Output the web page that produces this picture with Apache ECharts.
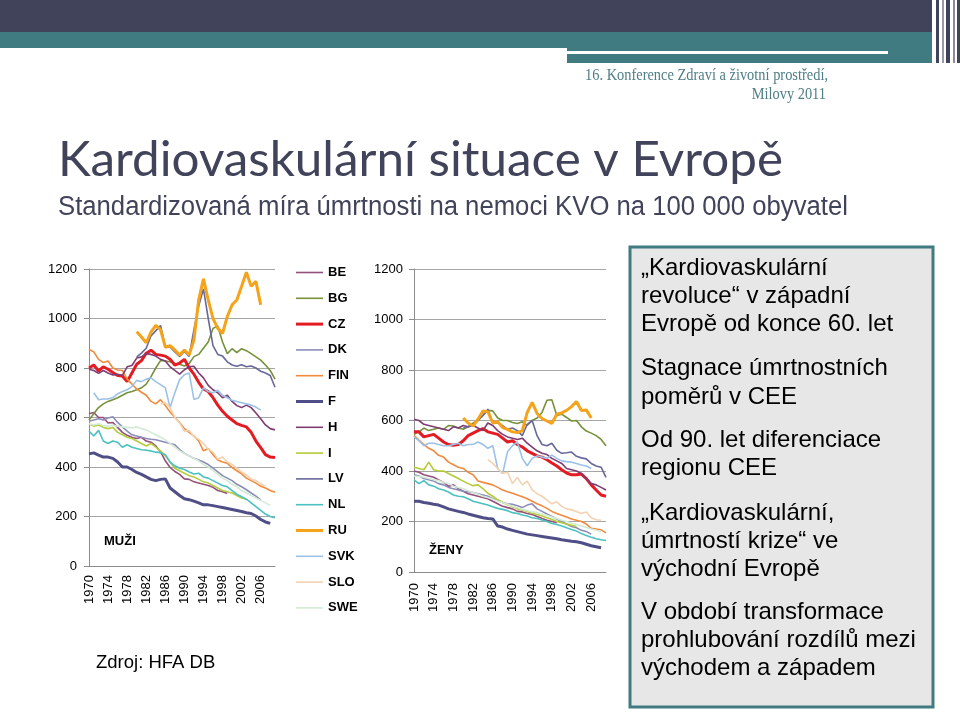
<!DOCTYPE html>
<html><head><meta charset="utf-8">
<script src="https://cdn.jsdelivr.net/npm/echarts@6.0.0/dist/echarts.min.js"></script>
<style>html,body{margin:0;padding:0;background:#fff}#c{width:960px;height:712px}</style>
</head><body><div id="c"></div>
<script>
// ---------- categories & ticks ----------
const years = ['1970','1971','1972','1973','1974','1975','1976','1977','1978','1979',
'1980','1981','1982','1983','1984','1985','1986','1987','1988','1989',
'1990','1991','1992','1993','1994','1995','1996','1997','1998','1999',
'2000','2001','2002','2003','2004','2005','2006','2007','2008','2009'];
const yMin = 0, yMax = 1200, yStep = 200;
const countries = ['BE','BG','CZ','DK','FIN','F','H','I','LV','NL','RU','SVK','SLO','SWE'];

// ---------- MEN (MUŽI) ----------
const menBE  = [615,620,600,600,578,580,560,540,528,520,515,520,505,500,485,462,425,398,382,370,352,350,340,335,330,325,318,305,300,293,null,null,null,null,null,null,null,null,null,null];
const menBG  = [590,615,640,655,665,672,680,690,700,705,712,720,735,765,800,830,828,825,818,815,808,818,846,855,880,905,960,970,905,858,878,862,878,870,858,845,832,812,790,755];
const menCZ  = [800,812,788,805,795,782,770,768,745,780,815,830,860,872,855,852,848,835,812,820,835,800,775,742,715,705,680,650,625,605,590,575,568,562,540,505,478,450,440,438];
const menDK  = [585,590,595,590,598,603,580,562,545,530,525,520,515,512,510,505,500,495,490,470,455,445,435,428,420,410,395,380,365,355,345,330,320,308,295,282,267,null,null,null];
const menFIN = [875,865,835,822,828,800,792,790,755,735,715,702,690,665,655,672,648,622,600,580,555,540,525,505,465,475,450,428,420,415,398,385,372,355,345,335,322,315,305,298];
const menF   = [453,457,448,440,440,435,420,400,400,390,378,370,360,350,345,350,352,315,300,285,272,268,262,255,247,247,244,240,236,232,228,224,220,215,212,202,188,178,172,null];
const menH   = [795,790,778,790,780,772,775,770,805,810,840,845,858,855,848,835,828,805,790,775,793,805,807,780,760,730,712,700,680,690,665,648,640,650,640,618,595,570,555,550];
const menI   = [575,565,570,560,555,560,540,530,520,515,505,495,485,495,480,465,445,420,395,385,375,365,360,350,340,335,325,315,305,300,295,285,275,270,null,null,null,null,null,null];
const menLV  = [null,null,null,null,null,null,null,null,null,null,845,860,880,930,950,972,885,885,865,847,867,847,955,1050,1120,1000,890,855,848,825,812,807,813,805,808,800,787,780,770,722];
const menNL  = [545,525,548,505,495,505,500,480,490,480,475,470,468,465,460,458,450,420,405,395,390,380,372,375,360,355,345,335,325,320,305,290,280,270,255,240,225,210,200,195];
const menRU  = [null,null,null,null,null,null,null,null,null,null,947,925,902,945,972,955,884,890,873,853,873,853,913,1075,1160,1075,1000,960,940,1008,1055,1075,1130,1187,1130,1150,1055,null,null,null];
const menSVK = [null,700,672,675,675,680,695,705,712,725,750,745,755,760,745,733,720,640,700,753,773,780,673,680,720,705,700,710,690,680,670,665,660,655,650,642,630,null,null,null];
const menSLO = [null,null,null,null,null,null,null,null,null,null,null,null,null,null,null,655,660,640,600,578,545,548,522,512,495,472,460,432,440,420,410,395,380,368,352,345,332,322,null,null];
const menSWE = [575,570,575,568,565,570,565,562,560,558,562,555,550,540,530,520,510,495,480,465,455,445,435,425,410,400,385,370,355,345,330,320,305,295,285,275,265,255,245,null];

// ---------- WOMEN (ŽENY) ----------
const womBE  = [400,395,385,380,375,365,355,340,345,330,320,310,305,300,295,290,280,270,260,255,250,240,238,232,228,220,212,205,200,195,null,null,null,null,null,null,null,null,null,null];
const womBG  = [545,555,570,560,565,570,565,580,578,570,565,575,590,600,620,640,638,610,600,600,592,588,595,580,600,610,632,680,682,620,625,612,598,600,575,558,550,540,525,500];
const womCZ  = [555,555,535,540,545,530,515,505,502,505,520,540,550,560,568,555,550,545,530,515,520,505,495,480,470,460,455,445,432,420,405,392,385,385,388,370,345,325,305,300];
const womDK  = [385,380,370,365,360,350,345,335,330,325,320,318,315,310,305,300,290,285,275,270,268,262,255,265,270,250,240,230,220,210,200,190,180,175,165,160,150,null,null,null];
const womFIN = [540,522,505,490,480,462,455,435,425,415,410,395,385,360,355,350,345,335,325,318,312,305,298,290,280,270,262,252,240,232,225,218,210,205,200,190,173,170,167,155];
const womF   = [280,280,275,272,268,265,258,250,245,240,236,230,225,220,215,212,210,182,178,170,165,160,155,150,147,144,141,138,135,132,128,125,122,120,116,110,104,100,96,null];
const womH   = [605,600,585,580,575,570,565,560,575,570,580,575,580,570,560,590,580,560,545,535,530,525,530,510,495,480,470,465,450,440,430,410,405,400,390,370,350,345,335,325];
const womI   = [415,410,405,435,405,400,400,390,380,370,360,350,342,345,330,312,300,286,275,266,258,250,245,240,233,228,222,215,208,200,195,190,185,180,null,null,null,null,null,null];
const womLV  = [null,null,null,null,null,null,null,null,null,null,570,575,585,600,620,645,590,590,580,565,570,560,540,585,600,540,505,500,510,482,470,472,475,458,452,448,430,420,415,375];
const womNL  = [365,350,362,345,340,330,325,317,305,300,298,290,280,275,270,265,258,252,248,243,235,232,226,222,215,212,206,200,192,188,182,175,168,162,152,145,138,132,128,125];
const womRU  = [null,null,null,null,null,null,null,null,null,null,610,590,578,605,638,635,590,595,572,565,555,552,560,632,672,628,608,598,588,625,630,640,655,675,640,642,610,null,null,null];
const womSVK = [535,520,500,510,510,505,500,500,505,510,500,505,505,515,505,490,500,410,390,476,500,515,450,421,450,460,455,450,463,450,440,437,435,430,424,420,410,null,null,null];
const womSLO = [null,null,null,null,null,null,null,null,null,null,null,null,null,null,null,445,430,410,390,395,350,375,345,360,325,310,300,285,270,278,260,250,246,240,232,238,215,207,205,null];
const womSWE = [380,378,375,370,365,362,355,350,340,335,330,322,315,308,300,295,288,280,275,268,260,255,248,243,238,235,230,225,218,212,205,200,193,188,182,176,170,165,160,null];

const menData = {BE:menBE,BG:menBG,CZ:menCZ,DK:menDK,FIN:menFIN,F:menF,H:menH,I:menI,LV:menLV,NL:menNL,RU:menRU,SVK:menSVK,SLO:menSLO,SWE:menSWE};
const womData = {BE:womBE,BG:womBG,CZ:womCZ,DK:womDK,FIN:womFIN,F:womF,H:womH,I:womI,LV:womLV,NL:womNL,RU:womRU,SVK:womSVK,SLO:womSLO,SWE:womSWE};

// ---------- styles ----------
const colors = {BE:'#94507C',BG:'#77913B',CZ:'#E31B23',DK:'#8C8CB8',FIN:'#F28A3E',F:'#4F4E86',H:'#7E3D72',
  I:'#B5CB3A',LV:'#68689A',NL:'#4CC1C1',RU:'#F5A31B',SVK:'#9BC2E6',SLO:'#F3D2B0',SWE:'#D3EBD6'};
const thick = {CZ:3,RU:3,F:3};
const AX = '"Liberation Sans", Arial, sans-serif';

const series = [];
countries.forEach(c => {
  [[menData,0],[womData,1]].forEach(([src, idx]) => {
    series.push({
      name: c, type: 'line', xAxisIndex: idx, yAxisIndex: idx, smooth: false,
      data: src[c], symbol: 'none', showSymbol: false, connectNulls: false,
      lineStyle: {color: colors[c], width: thick[c] || 1.6},
      itemStyle: {color: colors[c]},
      emphasis: {disabled: true}, silent: true
    });
  });
});

// ---------- text fitting ----------
const mctx = document.createElement('canvas').getContext('2d');
function fitScale(text, font, target){ mctx.font = font; return target / mctx.measureText(text).width; }

const titleText = 'Kardiovaskulární situace v Evropě';
const titleFont = '49px Lato';
const subText = 'Standardizovaná míra úmrtnosti na nemoci KVO na 100 000 obyvatel';
const subFont = '27px "Liberation Sans"';
const confText1 = '16. Konference Zdraví a životní prostředí,';
const confText2 = 'Milovy 2011';
const confFont = '17px "Liberation Serif"';
const confScale = fitScale(confText1, confFont, 243);

const boxLines = [
  ['„Kardiovaskulární', 268], ['revoluce“ v západní', 296], ['Evropě od konce 60. let', 324],
  ['Stagnace úmrtnostních', 368], ['poměrů v CEE', 397],
  ['Od 90. let diferenciace', 440], ['regionu CEE', 468],
  ['„Kardiovaskulární,', 513], ['úmrtností krize“ ve', 541], ['východní Evropě', 569],
  ['V období transformace', 612], ['prohlubování rozdílů mezi', 640], ['východem a západem', 668]
];

const graphic = [
  {type:'rect', shape:{x:0,y:0,width:932,height:32}, style:{fill:'#41435A'}, silent:true},
  {type:'rect', shape:{x:0,y:32,width:932,height:16}, style:{fill:'#3F7B81'}, silent:true},
  {type:'rect', shape:{x:567,y:48,width:365,height:15}, style:{fill:'#3F7B81'}, silent:true},
  {type:'rect', shape:{x:567,y:51,width:321,height:3}, style:{fill:'#FFFFFF'}, silent:true},
  {type:'rect', shape:{x:936,y:0,width:3,height:63}, style:{fill:'#41435A'}, silent:true},
  {type:'rect', shape:{x:942,y:0,width:2,height:63}, style:{fill:'#9A9AA6'}, silent:true},
  {type:'rect', shape:{x:946,y:0,width:4,height:63}, style:{fill:'#41435A'}, silent:true},
  {type:'rect', shape:{x:953,y:0,width:2,height:63}, style:{fill:'#8C8C98'}, silent:true},
  {type:'rect', shape:{x:957,y:0,width:3,height:63}, style:{fill:'#41435A'}, silent:true},
  {type:'text', x:828, y:76, scaleX:confScale, style:{text:confText1, x:0, y:0, font:confFont, fill:'#4F7E86', align:'right', verticalAlign:'middle'}, silent:true},
  {type:'text', x:826, y:95, scaleX:confScale, style:{text:confText2, x:0, y:0, font:confFont, fill:'#4F7E86', align:'right', verticalAlign:'middle'}, silent:true},
  {type:'text', x:58, y:160, scaleX:fitScale(titleText, titleFont, 725), style:{text:titleText, x:0, y:0, font:titleFont, fill:'#41435A', verticalAlign:'middle'}, silent:true},
  {type:'text', x:58, y:208, scaleX:fitScale(subText, subFont, 790), style:{text:subText, x:0, y:0, font:subFont, fill:'#41435A', verticalAlign:'middle'}, silent:true},
  {type:'rect', shape:{x:630,y:247,width:303,height:460}, style:{fill:'#E7E7E7', stroke:'#3F7B81', lineWidth:3}, silent:true},
  {type:'text', x:96, y:663, style:{text:'Zdroj: HFA DB', x:0, y:0, font:'18.5px "Liberation Sans"', fill:'#000', verticalAlign:'middle'}, silent:true},
  {type:'text', x:104, y:541, style:{text:'MUŽI', x:0, y:0, font:'bold 13px "Liberation Sans"', fill:'#000', verticalAlign:'middle'}, silent:true},
  {type:'text', x:429, y:550, style:{text:'ŽENY', x:0, y:0, font:'bold 13px "Liberation Sans"', fill:'#000', verticalAlign:'middle'}, silent:true}
];
boxLines.forEach(([t, y]) => graphic.push({type:'text', x:641, y:y, style:{text:t, x:0, y:0, font:'24px "Liberation Sans"', fill:'#000', verticalAlign:'middle'}, silent:true}));

function xAxis(gi, margin){
  return {type:'category', gridIndex:gi, data:years, boundaryGap:false,
    axisLine:{show:true, lineStyle:{color:'#8C8C8C', width:1}},
    axisTick:{show:false},
    axisLabel:{interval:3, rotate:90, margin:margin, fontSize:13, color:'#000', fontFamily:AX, hideOverlap:false},
    splitLine:{show:false}};
}
function yAxis(gi, margin){
  return {type:'value', gridIndex:gi, min:yMin, max:yMax, interval:yStep,
    axisLine:{show:true, lineStyle:{color:'#8C8C8C', width:1}},
    axisTick:{show:true, length:5, lineStyle:{color:'#8C8C8C'}},
    axisLabel:{margin:margin, fontSize:13, color:'#000', fontFamily:AX, formatter: v => String(v)},
    splitLine:{show:true, lineStyle:{color:'#A6A6A6', width:1}}};
}

const legendData = countries.map(c => {
  const h = thick[c] ? 3 : 1.6;
  return {name:c, icon:'path://M0 0H27V' + h + 'H0Z',
    itemStyle:{color:colors[c], borderWidth:0}, lineStyle:{width:0}};
});

const option = {
  animation:false,
  backgroundColor:'#ffffff',
  grid:[
    {left:89, top:269, width:186, height:297, containLabel:false, outerBoundsMode:'none'},
    {left:414, top:269, width:192, height:303, containLabel:false, outerBoundsMode:'none'}
  ],
  xAxis:[xAxis(0, 9), xAxis(1, 11)],
  yAxis:[yAxis(0, 12), yAxis(1, 11)],
  legend:{orient:'vertical', left:296, top:266, padding:0, itemWidth:27, itemHeight:14, itemGap:12.8,
    data:legendData, selectedMode:false,
    textStyle:{fontFamily:AX, fontWeight:'bold', fontSize:13, color:'#000'}},
  tooltip:{show:false},
  graphic:graphic,
  series:series
};
const chart = echarts.init(document.getElementById('c'), null, {renderer:'canvas'});
chart.setOption(option);
</script>
</body></html>
